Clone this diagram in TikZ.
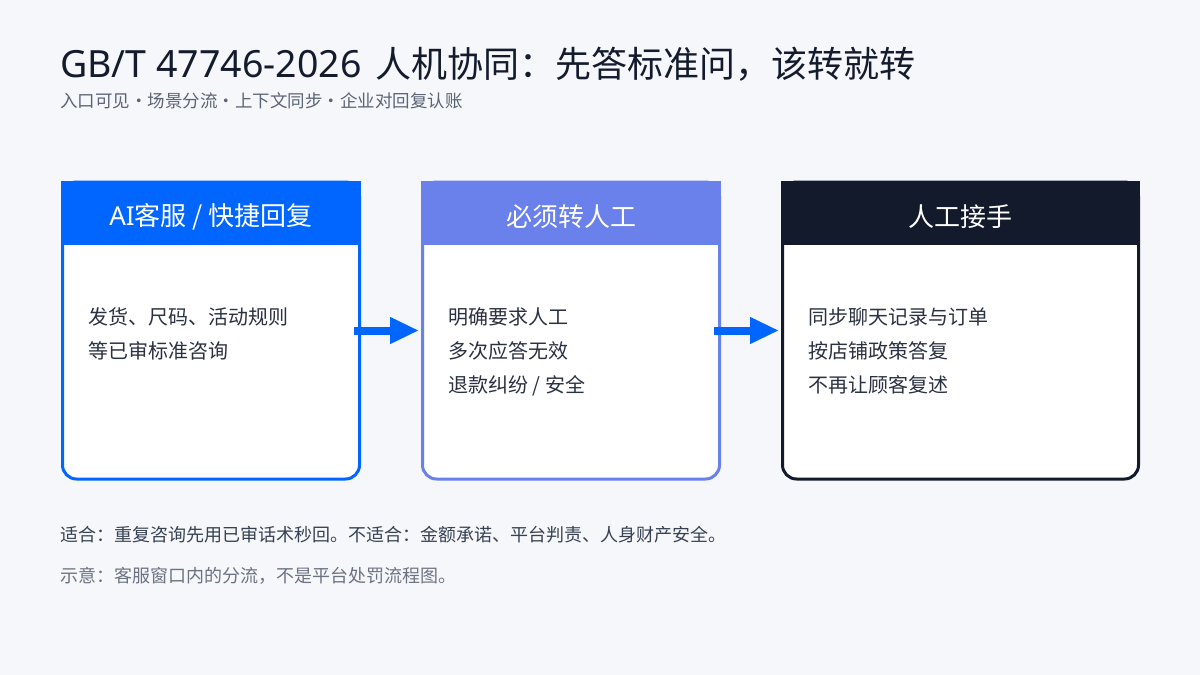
\documentclass[tikz,border=0pt]{standalone}
\usepackage{fontspec}
\setmainfont{Noto Sans CJK SC}
\newfontfamily\latinfont{Noto Sans}
\usetikzlibrary{arrows.meta}
\definecolor{pagebg}{HTML}{F5F7FB}
\definecolor{ink}{HTML}{141B2D}
\definecolor{bodyink}{HTML}{2A3142}
\definecolor{fitink}{HTML}{374151}
\definecolor{subink}{HTML}{5B6475}
\definecolor{noteink}{HTML}{6B7280}
\definecolor{aiblue}{HTML}{0066FF}
\definecolor{lavender}{HTML}{6A80EA}
\definecolor{night}{HTML}{131A2B}
\begin{document}
\begin{tikzpicture}[x=1pt,y=1pt,
  card/.style={draw=#1, line width=3pt, fill=white, rounded corners=14pt,
    minimum width=297pt, minimum height=297pt, inner sep=0pt, outer sep=0pt},
  cardtitle/.style={text=white, font=\fontsize{26}{30}\selectfont},
  cardtext/.style={anchor=north west, align=left, text=bodyink, inner sep=0pt,
    font=\fontsize{20}{34}\selectfont},
  flow/.style={-{Triangle[length=29pt,width=25pt]}, line width=8pt, aiblue}]
\fill[pagebg] (0,0) rectangle (1200,-675);
\useasboundingbox (0,0) rectangle (1200,-675);

\node[anchor=west, text=ink, inner sep=0pt, font=\fontsize{36}{40}\selectfont] (title) at (60,-64)
  {{\latinfont\fontsize{37.5}{40}\selectfont GB/T 47746-2026 }\hspace{4pt}人机协同：先答标准问，该转就转};
\node[anchor=west, text=subink, inner sep=0pt, font=\fontsize{17.5}{20}\selectfont] (subtitle) at (60,-101)
  {入口可见·场景分流·上下文同步·企业对回复认账};

% three cards
\node[card=aiblue] (b1) at (211,-330.5) {};
\node[card=lavender] (b2) at (571,-330.5) {};
\node[card=night, minimum width=356pt] (b3) at (960.5,-330.5) {};
\fill[aiblue] ([shift={(-1.5,1.5)}]b1.north west) rectangle ([shift={(1.5,-62.5)}]b1.north east);
\fill[lavender] ([shift={(-1.5,1.5)}]b2.north west) rectangle ([shift={(1.5,-62.5)}]b2.north east);
\fill[night] ([shift={(-1.5,1.5)}]b3.north west) rectangle ([shift={(1.5,-62.5)}]b3.north east);

\node[cardtitle] (h1) at ([yshift=-35]b1.north) {{\latinfont AI}客服 / 快捷回复};
\node[cardtitle] (h2) at ([yshift=-35]b2.north) {必须转人工};
\node[cardtitle] (h3) at ([yshift=-35]b3.north) {人工接手};

\node[cardtext] (t1) at (88,-307) {发货、尺码、活动规则\\等已审标准咨询};
\node[cardtext] (t2) at (448,-307) {明确要求人工\\多次应答无效\\退款纠纷 / 安全};
\node[cardtext] (t3) at (808,-307) {同步聊天记录与订单\\按店铺政策答复\\不再让顾客复述};

\draw[flow] ([xshift=-5.5]b1.east) -- ([xshift=-3.5]b2.west);
\draw[flow] ([xshift=-5.5]b2.east) -- ([xshift=-3.5]b3.west);

\node[anchor=west, text=fitink, inner sep=0pt, font=\fontsize{18}{22}\selectfont] (fit) at (60,-535)
  {适合：重复咨询先用已审话术秒回。不适合：金额承诺、平台判责、人身财产安全。};
\node[anchor=west, text=noteink, inner sep=0pt, font=\fontsize{18}{22}\selectfont] (note) at (60,-576)
  {示意：客服窗口内的分流，不是平台处罚流程图。};
\end{tikzpicture}
\end{document}
